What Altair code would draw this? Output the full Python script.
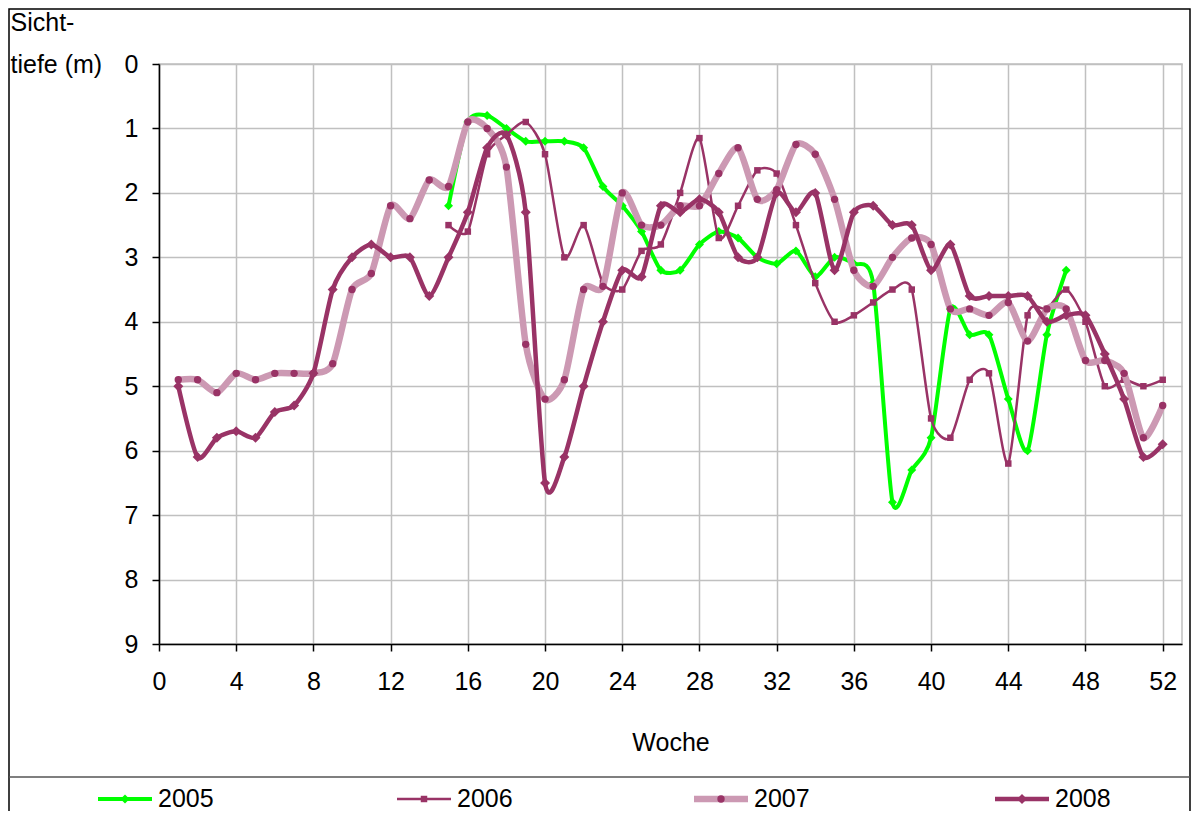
import altair as alt
import pandas as pd

# ---------------- data ----------------
weeks = list(range(1, 53))

y2005 = [None] * 14 + [
    2.2, 0.9, 0.8, 1.0, 1.2, 1.2, 1.2, 1.3, 1.9, 2.2,
    2.6, 3.2, 3.2, 2.8, 2.6, 2.7, 3.0, 3.1, 2.9, 3.3,
    3.0, 3.1, 3.4, 6.8, 6.3, 5.8, 3.8, 4.2, 4.2, 5.2,
    6.0, 4.2, 3.2] + [None] * 5

y2006 = [None] * 14 + [
    2.5, 2.6, 1.4, 1.1, 0.9, 1.4, 3.0, 2.5, 3.4, 3.5,
    2.9, 2.8, 2.0, 1.15, 2.7, 2.2, 1.65, 1.7, 2.5, 3.4,
    4.0, 3.9, 3.7, 3.5, 3.5, 5.5, 5.8, 4.9, 4.8, 6.2,
    3.9, 3.8, 3.5, 4.0, 5.0, 4.9, 5.0, 4.9]

y2007 = [
    4.9, 4.9, 5.1, 4.8, 4.9, 4.8, 4.8, 4.8, 4.65, 3.5,
    3.25, 2.2, 2.4, 1.8, 1.9, 0.9, 1.0, 1.6, 4.35, 5.2,
    4.9, 3.5, 3.45, 2.0, 2.5, 2.5, 2.2, 2.2, 1.7, 1.3,
    2.1, 1.95, 1.25, 1.4, 2.1, 3.2, 3.45, 3.0, 2.7, 2.8,
    3.8, 3.8, 3.9, 3.7, 4.3, 3.8, 3.8, 4.6, 4.6, 4.8,
    5.8, 5.3]

y2008 = [
    5.0, 6.1, 5.8, 5.7, 5.8, 5.4, 5.3, 4.8, 3.5, 3.0,
    2.8, 3.0, 3.0, 3.6, 3.0, 2.3, 1.3, 1.1, 2.3, 6.5,
    6.1, 5.0, 4.0, 3.2, 3.3, 2.2, 2.3, 2.1, 2.3, 3.0,
    3.0, 2.0, 2.3, 2.0, 3.2, 2.3, 2.2, 2.5, 2.5, 3.2,
    2.8, 3.6, 3.6, 3.6, 3.6, 4.0, 3.9, 3.9, 4.5, 5.2,
    6.1, 5.9]

years = ["2005", "2006", "2007", "2008"]
x_ticks = list(range(0, 53, 4))
y_ticks = list(range(0, 10))

# ---------------- styles ----------------
DARK = "#993366"
styles = {
    "2005": dict(line="#00FF00", width=4, mcolor="#00FF00", shape="diamond", size=80),
    "2006": dict(line=DARK, width=2.5, mcolor=DARK, shape="square", size=42),
    "2007": dict(line="#CC99B3", width=6.5, mcolor=DARK, shape="circle", size=55),
    "2008": dict(line=DARK, width=4.5, mcolor=DARK, shape="diamond", size=100),
}
FONT = "Liberation Sans"
FS = 25

rows = []
for yr, vals in zip(years, [y2005, y2006, y2007, y2008]):
    for w, v in zip(weeks, vals):
        if v is not None:
            rows.append({"week": w, "depth": v, "year": yr})
df = pd.DataFrame(rows)

x_enc = alt.X(
    "week:Q",
    scale=alt.Scale(domain=[0, 53], nice=False, zero=False),
    axis=alt.Axis(
        values=x_ticks, title="Woche", titleFontSize=FS, titleFontWeight="normal",
        titleFont=FONT, titleColor="black", titleBaseline="alphabetic", titleY=106,
        labelFontSize=FS, labelFont=FONT, labelColor="black", labelPadding=18,
        tickSize=7, tickColor="black", tickWidth=1.5, domainColor="black", domainWidth=1.5,
        grid=True, gridColor="#C0C0C0", gridWidth=1.5, labelFlush=False,
    ),
)
y_enc = alt.Y(
    "depth:Q",
    scale=alt.Scale(domain=[0, 9], reverse=True, nice=False),
    axis=alt.Axis(
        values=y_ticks, title=["Sicht-", "tiefe (m)"], titleAngle=0, titleAlign="left",
        titleBaseline="alphabetic", titleX=-149, titleY=-34, titleLineHeight=42,
        titleFontSize=FS, titleFontWeight="normal", titleFont=FONT, titleColor="black",
        labelFontSize=FS, labelFont=FONT, labelColor="black", labelPadding=14,
        tickSize=7, tickColor="black", tickWidth=1.5, domainColor="black", domainWidth=1.5,
        grid=True, gridColor="#C0C0C0", gridWidth=1.5,
    ),
)

layers = []
for yr in years:
    st = styles[yr]
    sub = df[df.year == yr]
    base = alt.Chart(sub).encode(x=x_enc, y=y_enc)
    layers.append(base.mark_line(interpolate="cardinal", tension=0.3,
                                 color=st["line"], strokeWidth=st["width"]))
    layers.append(base.mark_point(shape=st["shape"], filled=True, size=st["size"],
                                  color=st["mcolor"], opacity=1))

one = alt.Data(values=[{"a": 1}])

# outer frame and legend separator
frame = alt.Chart(one).mark_rect(filled=False, stroke="black", strokeWidth=1.5).encode(
    x=alt.value(-150), x2=alt.value(1031), y=alt.value(-55), y2=alt.value(900))
sep = alt.Chart(one).mark_rule(color="#555555", strokeWidth=1.5).encode(
    x=alt.value(-150), x2=alt.value(1031), y=alt.value(713))
layers += [frame, sep]

# custom legend
leg_x = [-61, 238, 535, 836]
LEG_Y = 735
for yr, lx in zip(years, leg_x):
    st = styles[yr]
    layers.append(alt.Chart(one).mark_rule(color=st["line"], strokeWidth=st["width"]).encode(
        x=alt.value(lx), x2=alt.value(lx + 54), y=alt.value(LEG_Y)))
    layers.append(alt.Chart(one).mark_point(shape=st["shape"], filled=True, size=st["size"],
                                            color=st["mcolor"], opacity=1).encode(
        x=alt.value(lx + 27), y=alt.value(LEG_Y)))
    layers.append(alt.Chart(one).mark_text(text=yr, font=FONT, fontSize=FS, color="black",
                                           align="left", baseline="middle").encode(
        x=alt.value(lx + 60), y=alt.value(LEG_Y)))

chart = alt.layer(*layers).properties(
    width=1023, height=580,
    padding={"left": 151, "top": 56, "right": 9, "bottom": 167},
    autosize=alt.AutoSizeParams(type="none"),
    background="white",
).configure_view(stroke="#C0C0C0", strokeWidth=1.5)

chart.save("out.html", embed_options={"renderer": "svg", "actions": False})
